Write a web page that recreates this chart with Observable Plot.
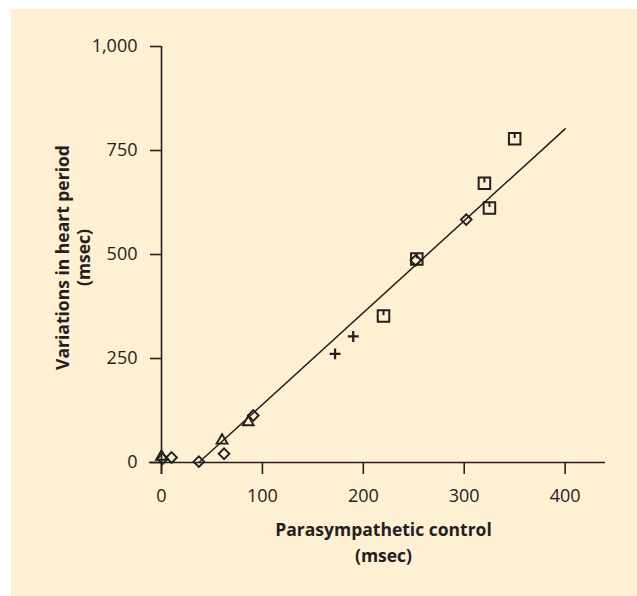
<!DOCTYPE html>
<html>
<head>
<meta charset="utf-8">
<script src="https://cdn.jsdelivr.net/npm/d3@7"></script>
<script src="https://cdn.jsdelivr.net/npm/@observablehq/plot@0.6"></script>
<style>
  html, body { margin: 0; padding: 0; background: #ffffff; }
  #panel { position: absolute; left: 11px; top: 9px; width: 626px; height: 587px; background: #fdf0d3; }
</style>
</head>
<body>
<div id="panel"></div>
<script>
// ---- data ----
const squareX = [220, 253, 320, 325, 350];
const squareY = [352, 489, 671, 612, 778];

const diamondX = [1, 10, 37, 62, 91, 252, 302];
const diamondY = [9, 12, 2, 21, 113, 486, 584];

const triangleX = [0, 60, 86];
const triangleY = [14, 53, 97];

const plusX = [172, 190];
const plusY = [261, 303];

const fitX = [37, 400];
const fitY = [0, 802];

const xTicks = [0, 100, 200, 300, 400];
const yTicks = [0, 250, 500, 750, 1000];
const xAxisExtent = [-12, 440];
const yAxisExtent = [-29, 1000];

const xTitle = "Parasympathetic control";
const yTitle = "Variations in heart period";
const unitTitle = "(msec)";

const ink = "#231f20";
const font = "Open Sans";

const pts = (xs, ys) => xs.map((x, i) => ({x, y: ys[i]}));

// square with a small tick from the top edge (as drawn in the reference)
const squareTick = {
  draw(context, size) {
    const h = Math.sqrt(size) / 2;
    context.moveTo(-h, -h);
    context.lineTo(h, -h);
    context.lineTo(h, h);
    context.lineTo(-h, h);
    context.closePath();
    context.moveTo(0, -h);
    context.lineTo(0, -h * 0.15);
  }
};

const chart = Plot.plot({
  width: 626,
  height: 587,
  marginLeft: 150,
  marginRight: 32,
  marginTop: 37,
  marginBottom: 134,
  style: {fontFamily: font, fontSize: "18px", color: ink, background: "transparent", overflow: "visible"},
  x: {domain: [0, 440], axis: null},
  y: {domain: [0, 1000], axis: null},
  marks: [
    // axis lines crossing at the origin
    Plot.ruleY([0], {x1: xAxisExtent[0], x2: xAxisExtent[1], stroke: ink, strokeWidth: 1.6, clip: false}),
    Plot.ruleX([0], {y1: yAxisExtent[0], y2: yAxisExtent[1], stroke: ink, strokeWidth: 1.6, clip: false}),
    Plot.axisX({ticks: xTicks, tickSize: 12, tickPadding: 15, stroke: ink, strokeWidth: 1.6, fill: ink, fontSize: 18, label: null}),
    Plot.axisY({ticks: yTicks, tickSize: 11, tickPadding: 13, tickFormat: d3.format(","), stroke: ink, strokeWidth: 1.6, fill: ink, fontSize: 18, label: null}),
    // regression line
    Plot.line(pts(fitX, fitY), {x: "x", y: "y", stroke: ink, strokeWidth: 1.5}),
    // observations
    Plot.dot(pts(diamondX, diamondY), {x: "x", y: "y", symbol: "diamond2", r: 4.8, stroke: ink, strokeWidth: 1.9, fill: "none"}),
    Plot.dot(pts(triangleX, triangleY), {x: "x", y: "y", symbol: "triangle2", r: 5.2, stroke: ink, strokeWidth: 1.9, fill: "none"}),
    Plot.dot(pts(plusX, plusY), {x: "x", y: "y", symbol: "plus", r: 3.6, stroke: ink, strokeWidth: 2.2, fill: "none"}),
    Plot.dot(pts(squareX, squareY), {x: "x", y: "y", symbol: squareTick, r: 6.5, stroke: ink, strokeWidth: 2, fill: "none"}),
    // axis titles
    Plot.text([xTitle], {frameAnchor: "bottom", dy: 73, text: d => d, fontWeight: "bold", fontSize: 17.5, fill: ink}),
    Plot.text([unitTitle], {frameAnchor: "bottom", dy: 99, text: d => d, fontWeight: "bold", fontSize: 17.5, fill: ink}),
    Plot.text([yTitle], {frameAnchor: "left", textAnchor: "middle", dx: -98, dy: 3, rotate: -90, text: d => d, fontWeight: "bold", fontSize: 17.5, fill: ink}),
    Plot.text([unitTitle], {frameAnchor: "left", textAnchor: "middle", dx: -77, dy: 3, rotate: -90, text: d => d, fontWeight: "bold", fontSize: 17.5, fill: ink})
  ]
});

document.getElementById("panel").appendChild(chart);
</script>
</body>
</html>
